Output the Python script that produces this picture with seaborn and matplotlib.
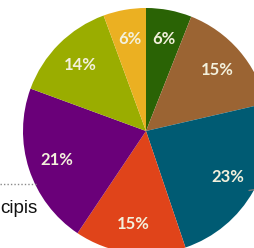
import matplotlib
matplotlib.use("Agg")
import matplotlib.pyplot as plt
import seaborn as sns
from matplotlib.lines import Line2D

# Data (clockwise from 12 o'clock)
categories = ["A", "B", "C", "D", "E", "F", "G"]
values = [6.0, 15.4, 23.4, 14.6, 21.2, 13.8, 5.6]
colors = ["#2a6305", "#9b6433", "#005b73", "#e0441a", "#6a0079", "#9aad00", "#ebb022"]
side_text = "cipis"

sns.set_theme(style="white")
plt.rcParams["font.family"] = ["Lato", "DejaVu Sans"]

W, H = 255, 248
fig = plt.figure(figsize=(W / 100, H / 100), dpi=100)
fig.patch.set_facecolor("white")

cx, cy, r = 146, 131, 123
ax = fig.add_axes([(cx - r) / W, (H - cy - r) / H, 2 * r / W, 2 * r / H])

wedges, texts, autotexts = ax.pie(
    values,
    colors=colors,
    startangle=90,
    counterclock=False,
    autopct=lambda p: f"{p:.0f}%",
    pctdistance=0.76,
    wedgeprops=dict(linewidth=0),
    textprops=dict(color="#f3f0dc", fontsize=12, fontweight="bold"),
)
ax.set_aspect("auto")
ax.set_xlim(-1, 1)
ax.set_ylim(-1, 1)
ax.axis("off")

# cropped neighbouring elements
fig.add_artist(Line2D([0 / W, 38 / W], [1 - 184 / H, 1 - 184 / H],
                      transform=fig.transFigure, color="#8a8a8a",
                      linestyle=(0, (1, 1.5)), linewidth=1))
fig.add_artist(Line2D([249 / W, 255 / W], [1 - 190.5 / H, 1 - 189.5 / H],
                      transform=fig.transFigure, color="#7a7a7a", linewidth=1))
fig.text(0 / W, 1 - 213 / H, side_text, fontsize=13.5, color="#111111",
         family=["Liberation Sans", "DejaVu Sans"], ha="left", va="baseline")

fig.savefig("out.png", dpi=100)
